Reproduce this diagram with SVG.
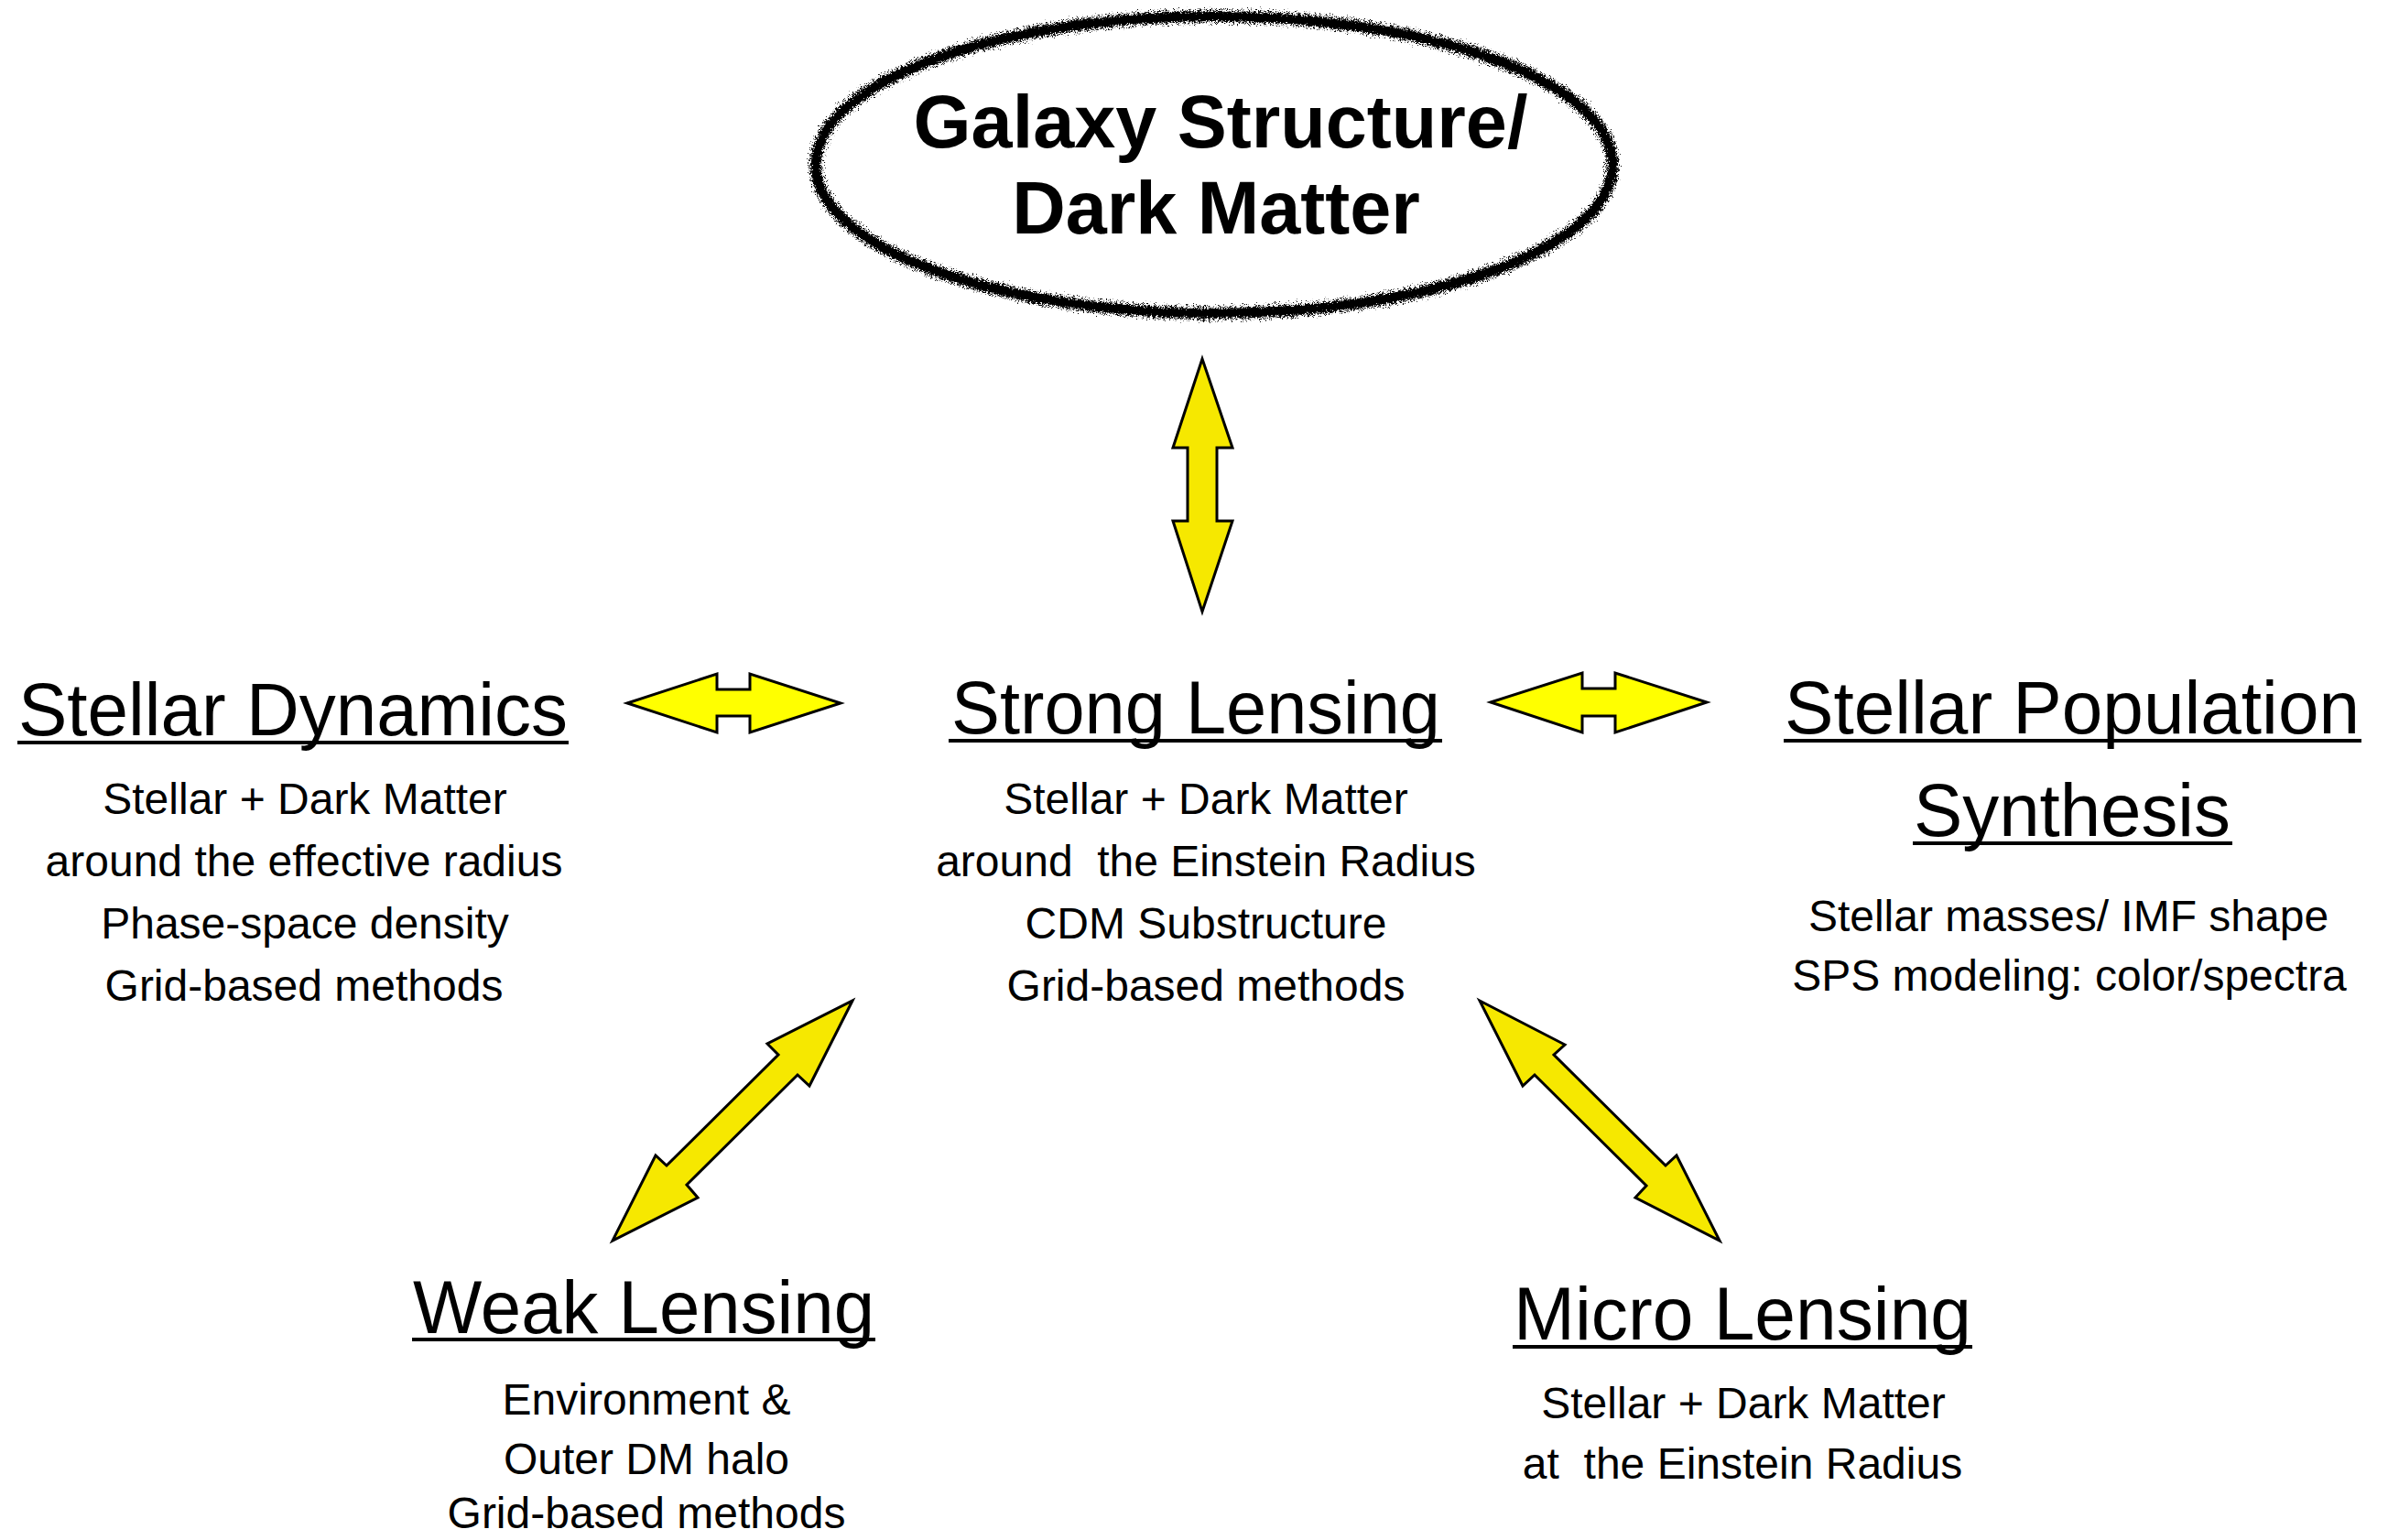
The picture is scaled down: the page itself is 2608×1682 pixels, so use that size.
<svg xmlns="http://www.w3.org/2000/svg" width="2608" height="1682" viewBox="0 0 2608 1682">
<style>
  .title { font-family: "Liberation Sans", Arial, Helvetica, sans-serif; font-weight: bold; font-size: 81px; fill: #000; text-anchor: middle; }
  .head { font-family: "Liberation Sans", Arial, Helvetica, sans-serif; font-size: 82px; fill: #000; text-anchor: middle; }
  .sub { font-family: "Liberation Sans", Arial, Helvetica, sans-serif; font-size: 48px; fill: #000; text-anchor: middle; }
  .ul { stroke: #000; stroke-width: 4; }
  .arrowA { fill: #F6E800; stroke: #000; stroke-width: 3; stroke-linejoin: miter; }
  .arrowB { fill: #FFFF00; stroke: #000; stroke-width: 3; stroke-linejoin: miter; }
</style>
<defs>
  <filter id="chalk" x="-10%" y="-15%" width="120%" height="130%">
    <feTurbulence type="fractalNoise" baseFrequency="0.7" numOctaves="2" seed="4" result="n"/>
    <feDisplacementMap in="SourceGraphic" in2="n" scale="8" xChannelSelector="R" yChannelSelector="G"/>
  </filter>
  <filter id="grain" x="-10%" y="-15%" width="120%" height="130%">
    <feTurbulence type="fractalNoise" baseFrequency="1.2" numOctaves="1" seed="9" result="n"/>
    <feDisplacementMap in="SourceGraphic" in2="n" scale="14" xChannelSelector="G" yChannelSelector="R"/>
  </filter>
</defs>
<rect width="2608" height="1682" fill="#fff"/>

<g id="galaxy-structure">
  <ellipse cx="1326" cy="180" rx="435" ry="162" fill="none" stroke="#000" stroke-width="10" filter="url(#chalk)"/>
  <ellipse cx="1326" cy="180" rx="435" ry="162" fill="none" stroke="#000" stroke-width="16" stroke-dasharray="2 4" filter="url(#grain)"/>
  <ellipse cx="1326" cy="180" rx="436" ry="163" fill="none" stroke="#000" stroke-width="12" stroke-dasharray="1 3 2 5" filter="url(#chalk)"/>
  <text class="title" x="1333" y="161">Galaxy Structure/</text>
  <text class="title" x="1328" y="255">Dark Matter</text>
</g>

<g id="stellar-dynamics">
  <text class="head" x="320" y="803" textLength="600" lengthAdjust="spacingAndGlyphs">Stellar Dynamics</text>
  <line class="ul" x1="19" y1="811" x2="621" y2="811"/>
  <text class="sub" x="333" y="889">Stellar + Dark Matter</text>
  <text class="sub" x="332" y="957">around the effective radius</text>
  <text class="sub" x="333" y="1025">Phase-space density</text>
  <text class="sub" x="332" y="1093">Grid-based methods</text>
</g>

<g id="strong-lensing">
  <text class="head" x="1306" y="801" textLength="534" lengthAdjust="spacingAndGlyphs">Strong Lensing</text>
  <line class="ul" x1="1036" y1="809" x2="1575" y2="809"/>
  <text class="sub" x="1317" y="889">Stellar + Dark Matter</text>
  <text class="sub" x="1317" y="957" xml:space="preserve">around  the Einstein Radius</text>
  <text class="sub" x="1317" y="1025">CDM Substructure</text>
  <text class="sub" x="1317" y="1093">Grid-based methods</text>
</g>

<g id="stellar-population-synthesis">
  <text class="head" x="2263" y="801" textLength="628" lengthAdjust="spacingAndGlyphs">Stellar Population</text>
  <line class="ul" x1="1948" y1="809" x2="2579" y2="809"/>
  <text class="head" x="2263" y="913" textLength="346" lengthAdjust="spacingAndGlyphs">Synthesis</text>
  <line class="ul" x1="2089" y1="921" x2="2438" y2="921"/>
  <text class="sub" x="2259" y="1017">Stellar masses/ IMF shape</text>
  <text class="sub" x="2260" y="1082">SPS modeling: color/spectra</text>
</g>

<g id="weak-lensing">
  <text class="head" x="703" y="1456" textLength="504" lengthAdjust="spacingAndGlyphs">Weak Lensing</text>
  <line class="ul" x1="450" y1="1463" x2="956" y2="1463"/>
  <text class="sub" x="706" y="1545">Environment &amp;</text>
  <text class="sub" x="706" y="1610">Outer DM halo</text>
  <text class="sub" x="706" y="1669">Grid-based methods</text>
</g>

<g id="micro-lensing">
  <text class="head" x="1903" y="1463" textLength="500" lengthAdjust="spacingAndGlyphs">Micro Lensing</text>
  <line class="ul" x1="1652" y1="1471" x2="2154" y2="1471"/>
  <text class="sub" x="1904" y="1549">Stellar + Dark Matter</text>
  <text class="sub" x="1903" y="1615" xml:space="preserve">at  the Einstein Radius</text>
</g>

<g id="connectors">
  <polygon class="arrowA" points="1313,392 1346,489 1329,489 1329,569 1346,569 1313,668 1281,569 1297,569 1297,489 1281,489"/>
  <polygon class="arrowB" points="685,768 783,736 783,753 819,753 819,736 918,768 819,800 819,782 783,782 783,800"/>
  <polygon class="arrowB" points="1628,767 1728,735 1728,752 1764,752 1764,735 1864,767 1764,800 1764,782 1728,782 1728,800"/>
  <polygon class="arrowA" points="931,1093 884,1186 871,1174 750,1294 762,1308 669,1355 716,1262 728,1273 850,1152 838,1140"/>
  <polygon class="arrowA" points="1616,1093 1709,1141 1697,1152 1819,1273 1831,1262 1878,1355 1786,1308 1798,1295 1676,1174 1663,1186"/>
</g>
</svg>
